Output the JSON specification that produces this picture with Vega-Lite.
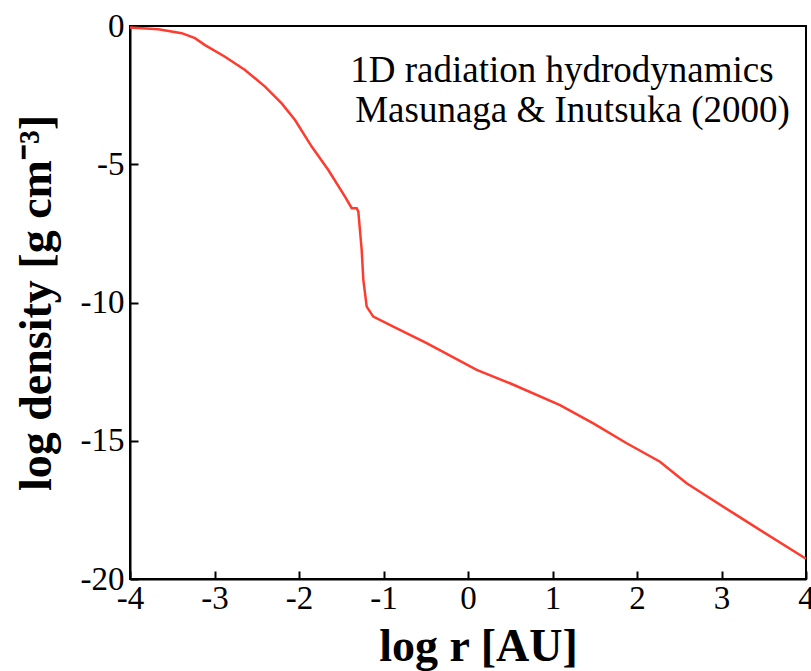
{
  "$schema": "https://vega.github.io/schema/vega-lite/v6.json",
  "autosize": "none",
  "width": 676,
  "height": 553,
  "padding": {"left": 130, "top": 26, "right": 5, "bottom": 92},
  "background": "white",
  "config": {"view": {"stroke": "black", "strokeWidth": 2}},
  "datasets": {
    "curve": [
      {"logr": -4.0, "logrho": -0.05},
      {"logr": -3.665, "logrho": -0.12},
      {"logr": -3.388, "logrho": -0.26},
      {"logr": -3.231, "logrho": -0.44},
      {"logr": -3.112, "logrho": -0.69},
      {"logr": -2.876, "logrho": -1.11},
      {"logr": -2.639, "logrho": -1.59},
      {"logr": -2.402, "logrho": -2.19},
      {"logr": -2.205, "logrho": -2.8},
      {"logr": -2.047, "logrho": -3.4},
      {"logr": -1.85, "logrho": -4.36},
      {"logr": -1.653, "logrho": -5.21},
      {"logr": -1.456, "logrho": -6.17},
      {"logr": -1.376, "logrho": -6.59},
      {"logr": -1.317, "logrho": -6.59},
      {"logr": -1.298, "logrho": -6.71},
      {"logr": -1.258, "logrho": -8.1},
      {"logr": -1.239, "logrho": -9.17},
      {"logr": -1.199, "logrho": -10.15},
      {"logr": -1.121, "logrho": -10.51},
      {"logr": -0.884, "logrho": -10.87},
      {"logr": -0.489, "logrho": -11.47},
      {"logr": 0.103, "logrho": -12.44},
      {"logr": 0.497, "logrho": -12.92},
      {"logr": 1.089, "logrho": -13.71},
      {"logr": 1.483, "logrho": -14.37},
      {"logr": 1.878, "logrho": -15.09},
      {"logr": 2.272, "logrho": -15.76},
      {"logr": 2.587, "logrho": -16.54},
      {"logr": 3.136, "logrho": -17.61},
      {"logr": 4.0, "logrho": -19.27}
    ],
    "notes": [
      {"logr": 1.112, "logrho": -2.03, "label": "1D radiation hydrodynamics"},
      {"logr": 1.237, "logrho": -3.47, "label": "Masunaga & Inutsuka (2000)"}
    ]
  },
  "encoding": {
    "x": {"field": "logr", "type": "quantitative", "scale": {"domain": [-4, 4], "nice": false, "zero": false},
      "axis": {"orient": "bottom", "title": "log r [AU]", "titleX": 348, "titleY": 81, "titleBaseline": "alphabetic", "titleAlign": "center",
        "titleFont": "Liberation Serif", "titleFontWeight": "bold", "titleFontSize": 46, "titleColor": "black",
        "labelFont": "Liberation Serif", "labelFontSize": 33, "labelColor": "black", "labelFlush": false, "labelOverlap": false,
        "gridOpacity": 0, "domainColor": "black", "domainWidth": 2,
        "tickCount": 8,
        "labelExpr": "'' + datum.value",
        "tickColor": "black", "tickWidth": 2, "tickSize": -8, "labelPadding": 11}},
    "y": {"field": "logrho", "type": "quantitative", "scale": {"domain": [-20, 0], "nice": false, "zero": false},
      "axis": {"orient": "left", "title": "log density [g cm⁻³]", "titleX": -80, "titleBaseline": "alphabetic", "titleAlign": "center",
        "titleFont": "Liberation Serif", "titleFontWeight": "bold", "titleFontSize": 46, "titleColor": "black",
        "labelFont": "Liberation Serif", "labelFontSize": 33, "labelColor": "black", "labelFlush": false, "labelOverlap": false,
        "gridOpacity": 0, "domainColor": "black", "domainWidth": 2,
        "tickCount": 4,
        "labelExpr": "'' + datum.value",
        "tickColor": "black", "tickWidth": 2, "tickSize": -8, "labelPadding": 14}}
  },
  "layer": [
    {
      "data": {"name": "curve"},
      "mark": {"type": "line", "color": "#ff3b2f", "strokeWidth": 2.5}
    },
    {
      "data": {"name": "notes"},
      "mark": {"type": "text", "font": "Liberation Serif", "fontSize": 37, "align": "center", "baseline": "alphabetic", "color": "black"},
      "encoding": {
        "text": {"field": "label", "type": "nominal"}
      }
    }
  ]
}
